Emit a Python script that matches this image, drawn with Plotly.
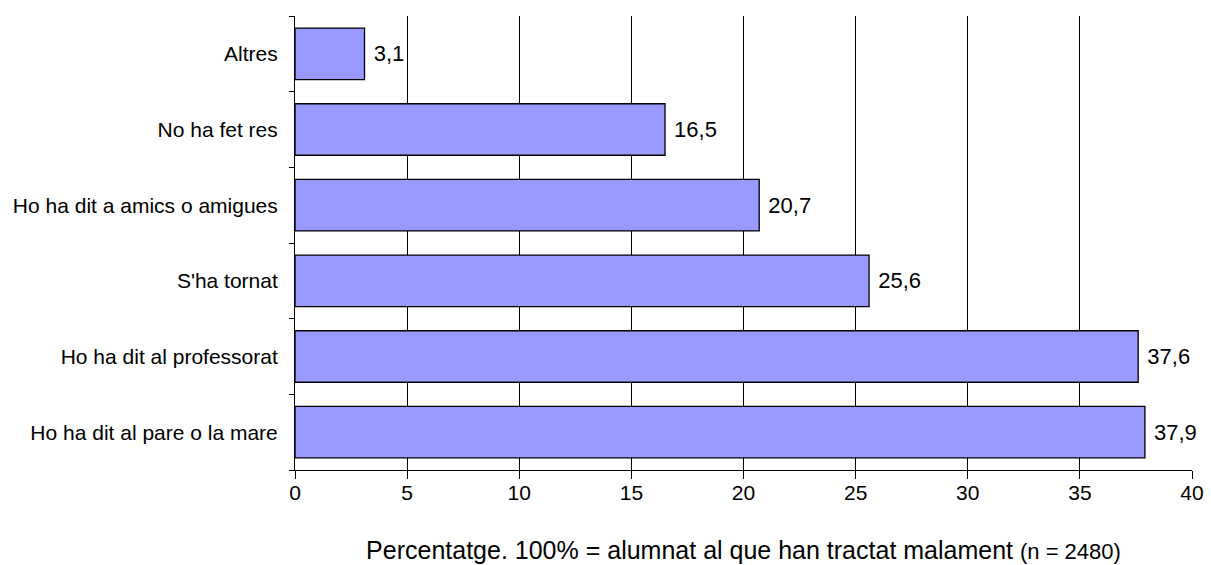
import plotly.graph_objects as go

categories = ['Ho ha dit al pare o la mare', 'Ho ha dit al professorat', "S'ha tornat",
              'Ho ha dit a amics o amigues', 'No ha fet res', 'Altres']
values = [37.9, 37.6, 25.6, 20.7, 16.5, 3.1]
xticks = [0, 5, 10, 15, 20, 25, 30, 35, 40]

fig = go.Figure()
fig.add_trace(go.Bar(
    y=categories, x=values, orientation='h',
    marker=dict(color='#9999FF', line=dict(color='black', width=1.3)),
    texttemplate=' %{x:.1f}', textposition='outside', cliponaxis=False,
    textfont=dict(size=22, color='black', family='Liberation Sans, Arial'),
    width=0.68,
))

fig.update_layout(
    width=1211, height=565,
    margin=dict(l=295, r=19, t=16, b=95),
    plot_bgcolor='white', paper_bgcolor='white',
    separators=',.',
    showlegend=False,
    font=dict(family='Liberation Sans, Arial', color='black'),
)
fig.update_xaxes(
    range=[0, 40], tickvals=xticks, showgrid=True, gridcolor='black', gridwidth=1,
    showline=True, linecolor='black', linewidth=1, ticks='outside', ticklen=8,
    tickcolor='black', tickfont=dict(size=21), zeroline=False, automargin=False,
    ticklabelstandoff=-4,
    title=dict(text="Percentatge. 100% = alumnat al que han tractat malament "
                    "<span style='font-size:22px'>(n = 2480)</span>",
               font=dict(size=25), standoff=38),
)
fig.update_yaxes(
    showline=True, linecolor='black', linewidth=1, ticks='outside', ticklen=5,
    tickcolor='black', tickson='boundaries', tickfont=dict(size=21),
    showgrid=False, ticklabelstandoff=12, automargin=False,
)

# page has a default 8px body margin; drop it so the chart fills the window
fig.write_html("out.html", config={'displayModeBar': False},
               post_script="document.body.style.margin='0';")
